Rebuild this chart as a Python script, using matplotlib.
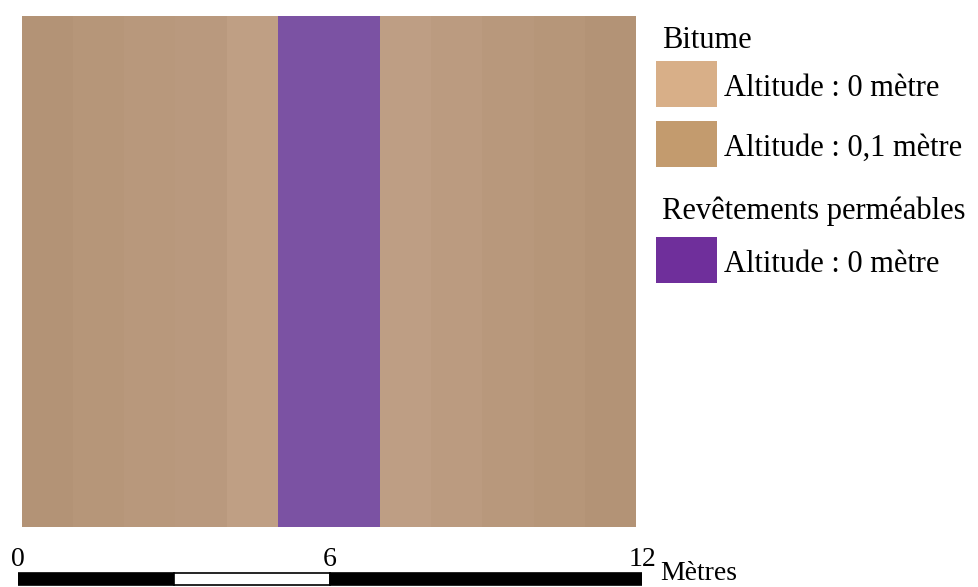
import numpy as np
import matplotlib
matplotlib.use("Agg")
import matplotlib.pyplot as plt
from matplotlib.colors import LinearSegmentedColormap
from matplotlib.patches import Rectangle

# ---- data ----
column_surface = ["Bitume"] * 5 + ["Revêtements perméables"] * 2 + ["Bitume"] * 5
column_altitude = [0.10, 0.08, 0.065, 0.05, 0.01, 0.0, 0.0, 0.015, 0.04, 0.06, 0.08, 0.10]
map_width_m = 12
map_height_m = 10
scale_ticks = [0, 6, 12]
scale_segments = [(0, 3, "black"), (3, 6, "white"), (6, 12, "black")]
scale_unit = "Mètres"
legend_groups = [
    ("Bitume", [("Altitude : 0 mètre", "#D8AF88"), ("Altitude : 0,1 mètre", "#C39B6E")]),
    ("Revêtements perméables", [("Altitude : 0 mètre", "#6F2F9B")]),
]

FONT = "Liberation Serif"
W, H = 979, 587
fig = plt.figure(figsize=(W / 100, H / 100), dpi=100)

def px_axes(x0, y0, x1, y1):
    return fig.add_axes([x0 / W, 1 - y1 / H, (x1 - x0) / W, (y1 - y0) / H])

# ---- map ----
ax = px_axes(22, 16, 636, 527)
alt = np.array(column_altitude, dtype=float)
is_bit = np.array([s == "Bitume" for s in column_surface])
xe = np.arange(map_width_m + 1)
ye = np.array([0, map_height_m])
cmap_bit = LinearSegmentedColormap.from_list("bit", ["#C0A086", "#B39376"])
ax.pcolormesh(xe, ye, np.ma.masked_where(~is_bit, alt)[None, :], cmap=cmap_bit,
              vmin=0, vmax=0.1, shading="flat")
cmap_perm = LinearSegmentedColormap.from_list("perm", ["#7B52A3", "#7B52A3"])
ax.pcolormesh(xe, ye, np.ma.masked_where(is_bit, alt)[None, :], cmap=cmap_perm,
              vmin=0, vmax=0.1, shading="flat")
ax.set_xlim(0, map_width_m)
ax.set_ylim(0, map_height_m)
ax.axis("off")

# ---- scale bar ----
sb = px_axes(18, 540, 642, 587)
sb.set_xlim(0, 12)
sb.set_ylim(587, 540)
for a, b, c in scale_segments:
    sb.add_patch(Rectangle((a, 573), b - a, 12, facecolor=c, edgecolor="black", lw=1.2))
for t in scale_ticks:
    sb.text(t, 566, str(t), ha="center", va="baseline", fontsize=20, family=FONT)
sb.axis("off")
fig.text(660 / W, 1 - 580 / H, scale_unit, ha="left", va="baseline", fontsize=20, family=FONT)

# ---- legend ----
lg = px_axes(640, 0, 979, 320)
lg.set_xlim(640, 979)
lg.set_ylim(320, 0)
lg.axis("off")
title_baselines = [48, 219]
patch_tops = [[61, 121], [237]]
for (title, items), tb, tops in zip(legend_groups, title_baselines, patch_tops):
    lg.text(662, tb, title, ha="left", va="baseline", fontsize=22, family=FONT)
    for (label, col), top in zip(items, tops):
        lg.add_patch(Rectangle((656, top), 61, 46, facecolor=col, edgecolor="none"))
        lg.text(724, top + 35, label, ha="left", va="baseline", fontsize=22, family=FONT)

fig.savefig("out.png", dpi=100)
